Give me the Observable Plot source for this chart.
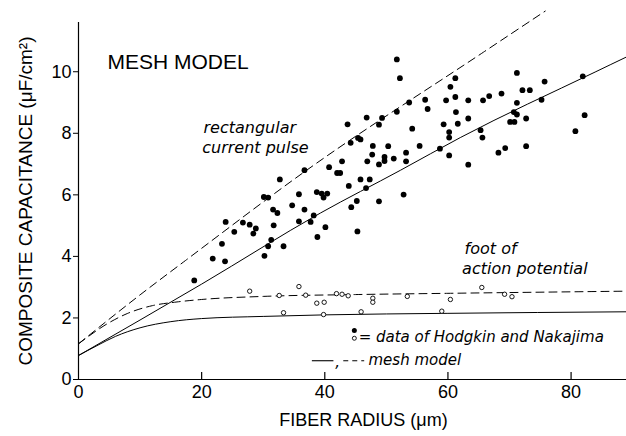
<!DOCTYPE html>
<html><head><meta charset="utf-8">
<script src="https://cdn.jsdelivr.net/npm/d3@7"></script>
<script src="https://cdn.jsdelivr.net/npm/@observablehq/plot@0.6"></script>
<style>html,body{margin:0;padding:0;background:#fff}</style>
</head><body><div id="chart"></div>
<script>
// Axis ticks
const xTicks = [0, 20, 40, 60, 80];
const yTicks = [0, 2, 4, 6, 8, 10];

// Filled circles: data of Hodgkin and Nakajima (rectangular current pulse)
const filledX = [18.8,21.8,23.8,23.3,23.9,25.3,26.7,27.8,28.8,28.4,30.1,30.8,32.7,30.2,30.8,31.3,31.7,31.6,32.3,33.3,34.7,35.8,35.8,36.7,36.7,37.7,38.2,38.8,38.7,39.5,40.4,39.8,40.1,45.3,44.3,45.2,48.8,52.8,42.0,42.5,43.9,45.8,47.3,46.7,40.7,42.8,44.2,45.4,45.8,43.7,46.8,49.3,48.8,51.7,53.7,56.3,56.7,51.7,52.2,54.2,55.4,58.7,53.2,53.2,51.2,50.3,49.7,49.7,48.8,46.9,47.7,47.8,61.2,60.4,59.7,61.2,61.3,59.3,61.6,60.2,60.2,60.2,63.3,63.3,63.3,65.7,66.7,68.7,65.3,65.6,68.2,69.3,71.2,72.1,73.3,71.2,70.7,71.2,70.1,70.8,72.7,72.7,75.7,75.2,81.9,82.2,80.7];
const filledY = [3.22,3.93,3.84,4.41,5.12,4.80,5.10,5.03,4.91,4.74,5.93,5.91,6.50,4.02,4.33,4.54,5.01,5.52,5.41,4.33,5.66,6.02,5.14,5.52,6.80,5.12,5.33,4.63,6.09,6.04,6.04,5.91,4.95,4.81,5.60,5.80,5.79,6.01,6.71,6.71,6.29,6.50,6.50,6.22,6.90,7.09,7.69,7.85,7.80,8.29,8.51,8.50,8.28,8.70,9.00,9.09,8.79,10.40,9.79,8.15,7.59,7.50,7.37,7.09,7.18,7.58,7.23,7.10,6.99,7.09,7.31,7.59,9.79,9.51,9.07,9.18,8.69,8.29,8.31,8.04,7.86,7.28,9.07,8.48,6.98,9.07,9.21,9.29,8.10,7.86,7.37,7.52,9.96,9.40,9.40,8.99,8.69,8.61,8.37,8.37,8.48,7.58,9.68,9.09,9.85,8.59,8.07];

// Open circles: data of Hodgkin and Nakajima (foot of action potential)
const openX = [27.8,32.6,33.3,35.8,36.9,38.7,39.9,39.8,41.9,42.8,43.8,45.9,47.8,47.8,53.4,59.0,60.4,65.5,69.2,70.4];
const openY = [2.87,2.73,2.17,3.02,2.74,2.48,2.51,2.11,2.79,2.77,2.72,2.20,2.64,2.51,2.70,2.22,2.60,2.99,2.77,2.69];

// Mesh model curves
const rectDashedX = [0, 10, 17.4, 36.7, 65.8, 75.8];
const rectDashedY = [1.16, 2.75, 3.87, 6.75, 10.64, 11.97];
const rectSolidX = [0, 20, 39.3, 52.3, 62.0, 83.9, 89];
const rectSolidY = [0.78, 3.10, 5.41, 6.80, 7.86, 9.99, 10.48];
const footDashedX = [0, 5, 8, 12, 16, 20, 30, 45, 60, 89];
const footDashedY = [1.16, 1.85, 2.15, 2.40, 2.52, 2.60, 2.70, 2.76, 2.80, 2.87];
const footSolidX = [0, 3, 6, 10, 15, 20, 30, 40, 60, 89];
const footSolidY = [0.78, 1.10, 1.40, 1.68, 1.88, 1.98, 2.05, 2.10, 2.15, 2.20];

// Text
const titleText = ["MESH MODEL"];
const annotationText = ["rectangular", "current pulse", "foot of", "action potential"];
const legendTexts = ["= data of Hodgkin and Nakajima", "mesh model"];
const xLabel = "FIBER RADIUS (\u03bcm)";
const yLabel = "COMPOSITE CAPACITANCE (\u03bcF/cm\u00b2)";

// Text anchor points in data units
const titlePos = [{x: 4.7, y: 10.31}];
const annotationPos = [{x: 20.3, y: 8.16}, {x: 20.1, y: 7.54}, {x: 62.7, y: 4.23}, {x: 62.3, y: 3.61}];
const legendTextPos = [{x: 45.5, y: 1.37}, {x: 47.1, y: 0.62}];
const legendFilledPos = [{x: 44.8, y: 1.59}];
const legendOpenPos = [{x: 44.8, y: 1.34}];
const legendSegments = [
  {x1: 37.9, x2: 41.4, y: 0.61, dash: null},
  {x1: 43.0, x2: 46.4, y: 0.61, dash: "5,4"}
];
const legendCommaPos = [{x: 41.7, y: 0.55}];

const zip = (xs, ys) => xs.map((x, i) => ({x, y: ys[i]}));
const filled = zip(filledX, filledY);
const open = zip(openX, openY);
const curves = [
  {pts: zip(rectDashedX, rectDashedY), dash: "8,5"},
  {pts: zip(rectSolidX, rectSolidY), dash: null},
  {pts: zip(footDashedX, footDashedY), dash: "8,5"},
  {pts: zip(footSolidX, footSolidY), dash: null}
];
const titles = titlePos.map((p, i) => ({...p, text: titleText[i]}));
const annotations = annotationPos.map((p, i) => ({...p, text: annotationText[i]}));
const legendLabels = legendTextPos.map((p, i) => ({...p, text: legendTexts[i]}));

const italic = {fontFamily: "DejaVu Sans", fontStyle: "italic", textAnchor: "start", fill: "#000"};

const chart = Plot.plot({
  width: 626, height: 436,
  marginLeft: 78, marginRight: 0, marginTop: 22, marginBottom: 57,
  x: {domain: [0, 89]},
  y: {domain: [0, 11.6]},
  style: {fontFamily: "'Liberation Sans', Arial, sans-serif", fontSize: "18px", color: "#000", background: "#fff", overflow: "visible"},
  marks: [
    Plot.ruleY([0], {stroke: "#000", strokeWidth: 1.2}),
    Plot.ruleX([0], {stroke: "#000", strokeWidth: 1.2}),
    Plot.axisY({ticks: yTicks, tickSize: 5, tickPadding: 2, label: null, fontSize: 18}),
    Plot.axisX({ticks: xTicks, tickSize: 0, tickPadding: 6, label: null, fontSize: 18}),
    Plot.tickX(xTicks.filter(d => d > 0), {x: d => d, insetTop: 350, stroke: "#000", strokeWidth: 1.2}),
    ...curves.map(c => Plot.line(c.pts, {x: "x", y: "y", stroke: "#000", strokeWidth: 1, strokeDasharray: c.dash, curve: "monotone-x"})),
    Plot.dot(filled, {x: "x", y: "y", r: 2.9, fill: "#000", stroke: "none"}),
    Plot.dot(open, {x: "x", y: "y", r: 2.2, fill: "#fff", stroke: "#000", strokeWidth: 0.9}),
    Plot.text(titles, {x: "x", y: "y", text: "text", textAnchor: "start", fontSize: 21, fill: "#000"}),
    Plot.text(annotations, {x: "x", y: "y", text: "text", fontSize: 16, ...italic}),
    Plot.text(legendLabels, {x: "x", y: "y", text: "text", fontSize: 15, ...italic}),
    Plot.text(legendCommaPos, {x: "x", y: "y", text: () => ",", fontSize: 15, ...italic}),
    Plot.dot(legendFilledPos, {x: "x", y: "y", r: 2.5, fill: "#000"}),
    Plot.dot(legendOpenPos, {x: "x", y: "y", r: 2, fill: "#fff", stroke: "#000", strokeWidth: 0.9}),
    ...legendSegments.map(s => Plot.link([s], {x1: "x1", x2: "x2", y1: "y", y2: "y", stroke: "#000", strokeWidth: 1.1, strokeDasharray: s.dash})),
    Plot.text([yLabel], {frameAnchor: "left", textAnchor: "middle", dx: -53, rotate: -90, text: d => d, fontSize: 19, fill: "#000"}),
    Plot.text([xLabel], {frameAnchor: "bottom", textAnchor: "middle", dx: 11, dy: 46, text: d => d, fontSize: 18, fill: "#000"})
  ]
});
document.getElementById("chart").appendChild(chart);
</script>
</body></html>
